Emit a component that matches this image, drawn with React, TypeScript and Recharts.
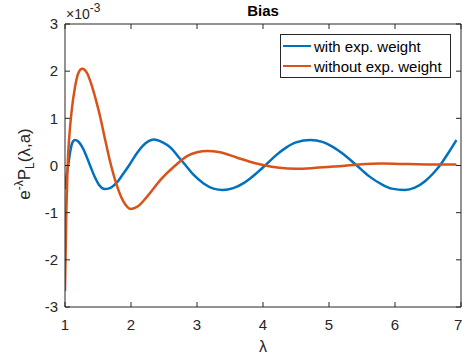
import { Legend, Line, LineChart, XAxis, YAxis } from 'recharts'

const lambdaWith = [
  1.0, 1.02, 1.05, 1.08, 1.11, 1.15, 1.2, 1.27, 1.38, 1.45, 1.52, 1.6, 1.68, 1.78, 1.88,
  1.97, 2.1, 2.22, 2.35, 2.48, 2.6, 2.72, 2.83, 2.95, 3.1, 3.25, 3.39, 3.55, 3.7, 3.8,
  3.92, 4.04, 4.2, 4.35, 4.5, 4.72, 4.9, 5.05, 5.2, 5.42, 5.6, 5.8, 5.95, 6.15, 6.3,
  6.45, 6.57, 6.68, 6.8, 6.93,
]
const biasWith = [
  -0.5, -0.25, 0.02, 0.3, 0.48, 0.54, 0.51, 0.37, 0.0, -0.24, -0.42, -0.5, -0.48, -0.37, -0.18,
  0.0, 0.28, 0.47, 0.55, 0.49, 0.38, 0.18, 0.0, -0.2, -0.38, -0.49, -0.52, -0.48, -0.38, -0.28,
  -0.14, 0.01, 0.22, 0.38, 0.49, 0.54, 0.5, 0.4, 0.26, 0.0, -0.22, -0.4, -0.49, -0.52, -0.47,
  -0.34, -0.18, 0.0, 0.25, 0.54,
]

const lambdaWithout = [
  1.0, 1.02, 1.04, 1.07, 1.1, 1.15, 1.2, 1.26, 1.33, 1.4, 1.47, 1.53, 1.6, 1.68, 1.78,
  1.88, 2.0, 2.1, 2.25, 2.45, 2.67, 2.85, 3.0, 3.15, 3.35, 3.6, 3.8, 4.0, 4.25, 4.5,
  4.8, 5.1, 5.45, 5.8, 6.2, 6.6, 6.93,
]
const biasWithout = [
  -2.66, -1.0, 0.0, 0.7, 1.15, 1.65, 1.95, 2.05, 1.97, 1.72, 1.38, 1.05, 0.6, 0.1, -0.4,
  -0.75, -0.92, -0.87, -0.65, -0.3, 0.0, 0.2, 0.28, 0.31, 0.28, 0.17, 0.08, 0.01, -0.05, -0.07,
  -0.05, -0.02, 0.02, 0.04, 0.03, 0.02, 0.02,
]

const xTicks = [1, 2, 3, 4, 5, 6, 7]
const yTicks = [-3, -2, -1, 0, 1, 2, 3]

const withData = lambdaWith.map((x, i) => ({ x, y: biasWith[i] }))
const withoutData = lambdaWithout.map((x, i) => ({ x, y: biasWithout[i] }))

const font = '"Liberation Sans", Arial, Helvetica, sans-serif'
const axisColor = '#262626'

// box edges only carry tick marks, no labels
const noLabel = () => <g />

function LegendBox({ payload }: any) {
  return (
    <div
      style={{
        width: 171,
        boxSizing: 'border-box',
        border: `1px solid ${axisColor}`,
        background: '#fff',
        padding: '1px 2px',
        fontFamily: font,
        fontSize: 15,
        color: '#000',
      }}
    >
      {(payload || []).map((entry: any) => (
        <div key={entry.value} style={{ display: 'flex', alignItems: 'center', height: 20 }}>
          <span style={{ width: 28, height: 2, background: entry.color, marginRight: 3 }} />
          <span>{entry.value}</span>
        </div>
      ))}
    </div>
  )
}

export default function App() {
  return (
    <div style={{ position: 'absolute', left: 0, top: 0, width: 462, height: 360, background: '#fff', fontFamily: font }}>
      <LineChart width={462} height={360} margin={{ top: 23, right: 0, bottom: 23, left: 25 }}>
        <XAxis
          xAxisId="bottom"
          dataKey="x"
          type="number"
          domain={[1, 7]}
          ticks={xTicks}
          allowDataOverflow
          height={30}
          stroke={axisColor}
          tickSize={-5}
          tickMargin={17}
          tick={{ fill: axisColor, fontSize: 15, fontFamily: font }}
          label={{ value: 'λ', position: 'bottom', offset: 4, fill: axisColor, fontSize: 16, fontFamily: font }}
        />
        <XAxis
          xAxisId="top"
          orientation="top"
          dataKey="x"
          type="number"
          domain={[1, 7]}
          ticks={xTicks}
          allowDataOverflow
          height={1}
          stroke={axisColor}
          tickSize={-5}
          tick={noLabel}
        />
        <YAxis
          yAxisId="left"
          type="number"
          domain={[-3, 3]}
          ticks={yTicks}
          allowDataOverflow
          width={40}
          stroke={axisColor}
          tickSize={-5}
          tickMargin={12}
          tick={{ fill: axisColor, fontSize: 15, fontFamily: font }}
        />
        <YAxis
          yAxisId="right"
          orientation="right"
          type="number"
          domain={[-3, 3]}
          ticks={yTicks}
          allowDataOverflow
          width={1}
          stroke={axisColor}
          tickSize={-5}
          tick={noLabel}
        />
        <Legend
          layout="vertical"
          align="center"
          verticalAlign="middle"
          wrapperStyle={{ left: 280, top: 34, width: 171 }}
          content={<LegendBox />}
        />
        <Line
          xAxisId="bottom"
          yAxisId="left"
          data={withData}
          dataKey="y"
          name="with exp. weight"
          type="monotone"
          stroke="#0072BD"
          strokeWidth={2.5}
          dot={false}
          isAnimationActive={false}
        />
        <Line
          xAxisId="bottom"
          yAxisId="left"
          data={withoutData}
          dataKey="y"
          name="without exp. weight"
          type="monotone"
          stroke="#D95319"
          strokeWidth={2.5}
          dot={false}
          isAnimationActive={false}
        />
      </LineChart>

      <div
        style={{
          position: 'absolute',
          left: 263,
          top: 3,
          transform: 'translateX(-50%)',
          fontSize: 15,
          lineHeight: '16px',
          fontWeight: 'bold',
          color: '#000',
          whiteSpace: 'nowrap',
        }}
      >
        Bias
      </div>

      <div
        style={{
          position: 'absolute',
          left: 66,
          top: 6,
          fontSize: 14,
          lineHeight: '16px',
          color: axisColor,
          whiteSpace: 'nowrap',
        }}
      >
        ×10<span style={{ fontSize: 12, position: 'relative', top: -7 }}>-3</span>
      </div>

      <div
        style={{
          position: 'absolute',
          left: 25,
          top: 164,
          transform: 'translate(-50%, -50%) rotate(-90deg)',
          fontSize: 17,
          lineHeight: '17px',
          color: axisColor,
          whiteSpace: 'nowrap',
        }}
      >
        e<span style={{ fontSize: 12, position: 'relative', top: -7 }}>-λ</span>P
        <span style={{ fontSize: 12, position: 'relative', top: 4 }}>L</span>(λ,a)
      </div>
    </div>
  )
}
